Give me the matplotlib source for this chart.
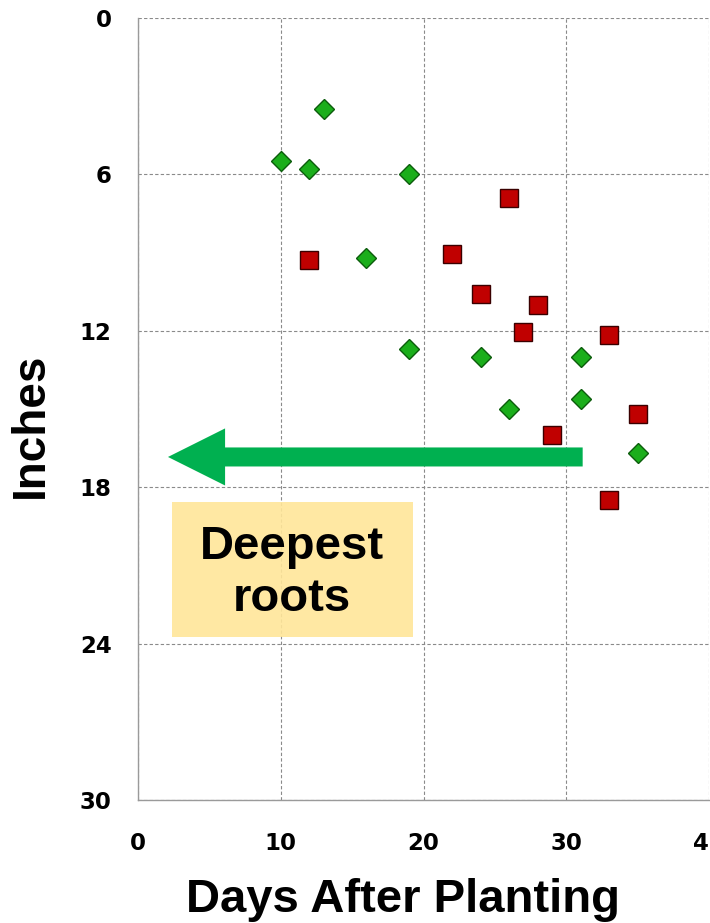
import matplotlib
matplotlib.use("Agg")
import matplotlib.pyplot as plt
from matplotlib.patches import Rectangle, FancyArrow

# green diamonds
green_days = [13, 10, 12, 19, 16, 19, 24, 31, 26, 31, 35]
green_depth = [3.5, 5.5, 5.8, 6.0, 9.2, 12.7, 13.0, 13.0, 15.0, 14.6, 16.7]

# red squares
red_days = [12, 26, 22, 24, 28, 27, 33, 35, 29, 33]
red_depth = [9.3, 6.9, 9.05, 10.6, 11.0, 12.05, 12.15, 15.2, 16.0, 18.5]

x_ticks = [0, 10, 20, 30, 40]
y_ticks = [0, 6, 12, 18, 24, 30]

fig = plt.figure(figsize=(7.10, 9.23), dpi=100)
ax = fig.add_axes([138 / 710, 1 - 800 / 923, 571 / 710, 782 / 923])

ax.set_xlim(0, 40)
ax.set_ylim(30, 0)
ax.set_xticks(x_ticks)
ax.set_yticks(y_ticks)
ax.tick_params(length=0, labelsize=16.5)
ax.tick_params(axis="x", pad=23)
ax.tick_params(axis="y", pad=19)
for lab in ax.get_xticklabels() + ax.get_yticklabels():
    lab.set_fontweight("bold")
    lab.set_fontfamily("DejaVu Sans")

ax.grid(True, color="#8a8a8a", linestyle=(0, (3, 2)), linewidth=0.8, zorder=0)
for side in ["top", "right"]:
    ax.spines[side].set_visible(False)
for side in ["left", "bottom"]:
    ax.spines[side].set_color("#9a9a9a")
    ax.spines[side].set_linewidth(1.0)

# yellow box + label
ax.add_patch(Rectangle((2.38, 18.57), 16.88, 5.17, facecolor="#FFE699",
                       edgecolor="none", alpha=0.9, zorder=2))
ax.text(10.8, 21.3, "Deepest\nroots", ha="center", va="center", fontsize=34,
        fontweight="bold", family="Liberation Sans", linespacing=1.22, zorder=3)

# arrow
ax.add_patch(FancyArrow(31.15, 16.84, -29.05, 0, width=0.73, head_width=2.19,
                        head_length=4.0, length_includes_head=True,
                        color="#00B050", linewidth=0, zorder=3))

ax.plot(green_days, green_depth, linestyle="none", marker="D", markersize=10.5,
        markerfacecolor="#1BAE1B", markeredgecolor="#0C5C0C", markeredgewidth=1.0,
        zorder=4, clip_on=False)
ax.plot(red_days, red_depth, linestyle="none", marker="s", markersize=12.5,
        markerfacecolor="#C00000", markeredgecolor="#3A0000", markeredgewidth=1.0,
        zorder=4, clip_on=False)

fig.text(403.5 / 710, 11 / 923, "Days After Planting", ha="center", va="baseline",
         fontsize=34, fontweight="bold", family="Liberation Sans")
fig.text(31 / 710, 1 - 425 / 923, "Inches", ha="center", va="center", rotation=90,
         fontsize=33, fontweight="bold", family="Liberation Sans")

fig.savefig("out.png", dpi=100)
